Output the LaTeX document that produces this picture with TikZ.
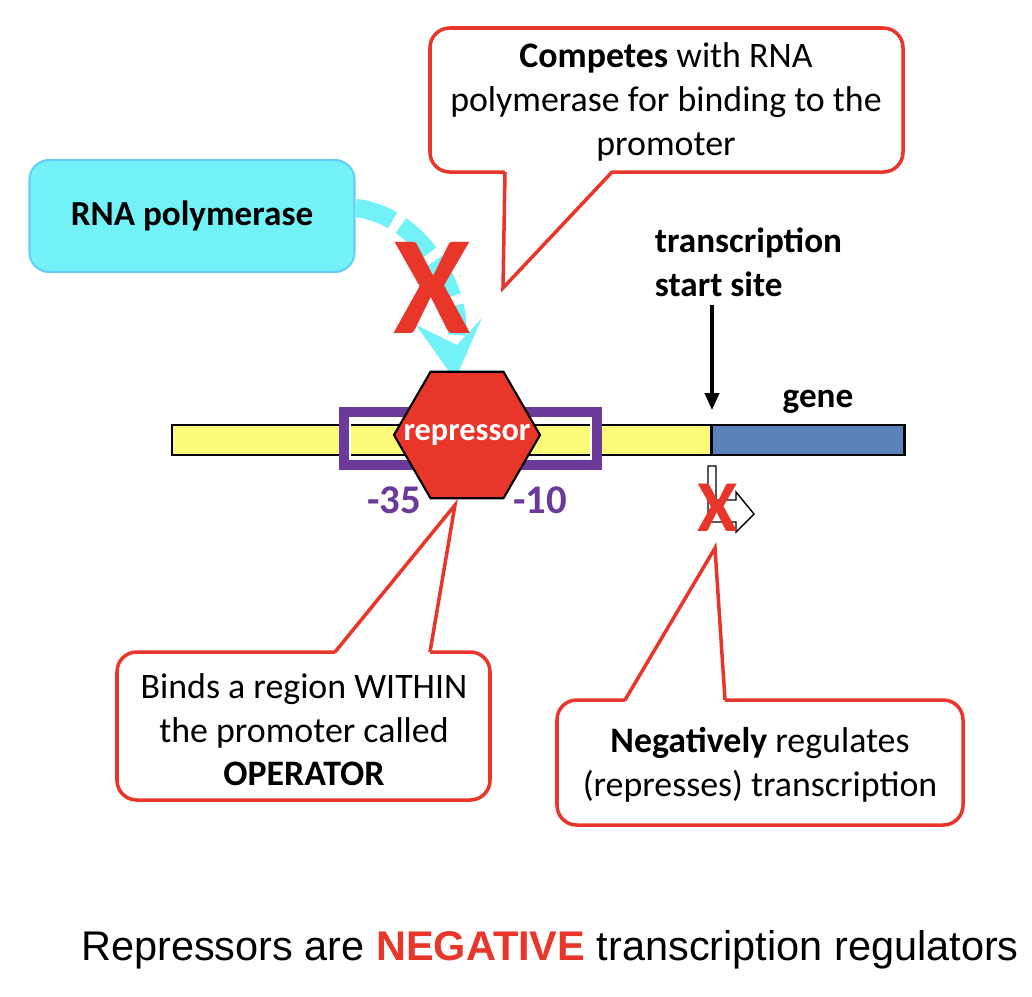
\documentclass[tikz,border=0pt]{standalone}
\usepackage{fontspec}
\setmainfont{Carlito}
\newfontfamily\arialfont{Liberation Sans}
\usetikzlibrary{shapes.geometric,arrows.meta}
\definecolor{calloutred}{HTML}{E8362B}
\definecolor{polycyan}{HTML}{72F2F7}
\definecolor{dnayellow}{HTML}{FCFC7A}
\definecolor{geneblue}{HTML}{5A81B8}
\definecolor{boxpurple}{HTML}{6B3A9A}
\tikzset{
  callout/.style={draw=calloutred, line width=2.5pt, rounded corners=14pt, fill=white},
  calltext/.style={font=\fontsize{25.5}{31}\selectfont, align=center},
  lbl/.style={font=\bfseries\fontsize{25}{31}\selectfont}
}
\begin{document}
\begin{tikzpicture}[x=0.025cm, y=-0.025cm]
	%\draw[help lines] (0,0) grid[step=100] (1032,996);
	\fill[white] (0,0) rectangle (1032,996);
	% boxes
	\draw[callout] (430,28) rectangle (903,172);
	\fill[white] (505,170) -- (503,288) -- (612,170) -- cycle;
	\draw[calloutred, line width=2.5pt, line join=miter] (505,172) -- (503,288) -- (612,172);
	\node[calltext] (compete) at (666,102) {\textbf{Competes} with RNA\\polymerase for binding to the\\promoter};
	\node[draw=cyan!60, line width=1.5pt, fill=polycyan, rounded corners=14pt, minimum width=325*0.025cm, minimum height=112*0.025cm, lbl] (pol) at (192,216) {RNA polymerase};
	% DNA
	\node[draw, line width=2pt, fill=dnayellow, minimum width=540*0.025cm, minimum height=30*0.025cm, inner sep=0] (prom) at (442,440) {};
	\node[draw, line width=2pt, fill=geneblue, minimum width=193*0.025cm, minimum height=30*0.025cm, inner sep=0] (gene) at (808,440) {};
	\draw[boxpurple, line width=9pt] (345,413) rectangle (596,464);
	\draw[white, line width=1.2pt] (350,418) rectangle (591,459);
	\draw[polycyan, line width=13pt, dash pattern=on 28pt off 7pt] (pol.east) ++(0,-8) .. controls (420,215) and (462,290) .. (457,335);
	\fill[polycyan] (416,325) -- (455,380) -- (482,318) -- (457,345) -- cycle;
	\node[regular polygon, regular polygon sides=6, draw, line width=1.5pt, fill=calloutred, minimum size=146*0.025cm, inner sep=0] (rep) at (467,435) {};
	\node[font=\bfseries\fontsize{23}{26}\selectfont, text=white] (replbl) at (rep.center) {repressor};
	\node[font=\bfseries\fontsize{29}{31}\selectfont, text=boxpurple] (m35) at (394,500) {-35};
	\node[font=\bfseries\fontsize{29}{31}\selectfont, text=boxpurple] (m10) at (540,500) {-10};
	\node[font=\bfseries\fontsize{100}{100}\selectfont, text=calloutred] (xpol) at (432,288) {X};
	% start site
	\node[lbl, align=left, anchor=west] (tss) at (650,262) {transcription\\start site};
	\draw[-{Triangle[length=12pt, width=10pt]}, line width=2.5pt] (712,305) -- (712,410);
	\node[lbl] (genelbl) at (818,402) {gene};
	\draw[fill=white, line width=1pt] (708,466) -- (716,466) -- (716,500) -- (736,500) -- (736,492) -- (754,514) -- (736,532) -- (736,522) -- (708,522) -- cycle;
	\node[font=\bfseries\fontsize{52}{52}\selectfont, text=calloutred] (xtss) at (718,508) {X};
	% lower callouts
	\draw[callout] (117,652) rectangle (490,800);
	\fill[white] (335,654) -- (455,505) -- (430,654) -- cycle;
	\draw[calloutred, line width=2.5pt, line join=miter] (335,652) -- (455,505) -- (430,652);
	\node[calltext] (binds) at (304,730) {Binds a region WITHIN\\the promoter called\\\textbf{OPERATOR}};
	\draw[callout] (557,700) rectangle (963,825);
	\fill[white] (625,702) -- (715,548) -- (725,702) -- cycle;
	\draw[calloutred, line width=2.5pt, line join=miter] (625,700) -- (715,548) -- (725,700);
	\node[calltext] (neg) at (760,765) {\textbf{Negatively} regulates\\(represses) transcription};
	% caption
	\node[font=\arialfont\fontsize{29.5}{32}\selectfont] (cap) at (550,950) {Repressors are \textcolor{calloutred}{\textbf{NEGATIVE}} transcription regulators};
\end{tikzpicture}
\end{document}
